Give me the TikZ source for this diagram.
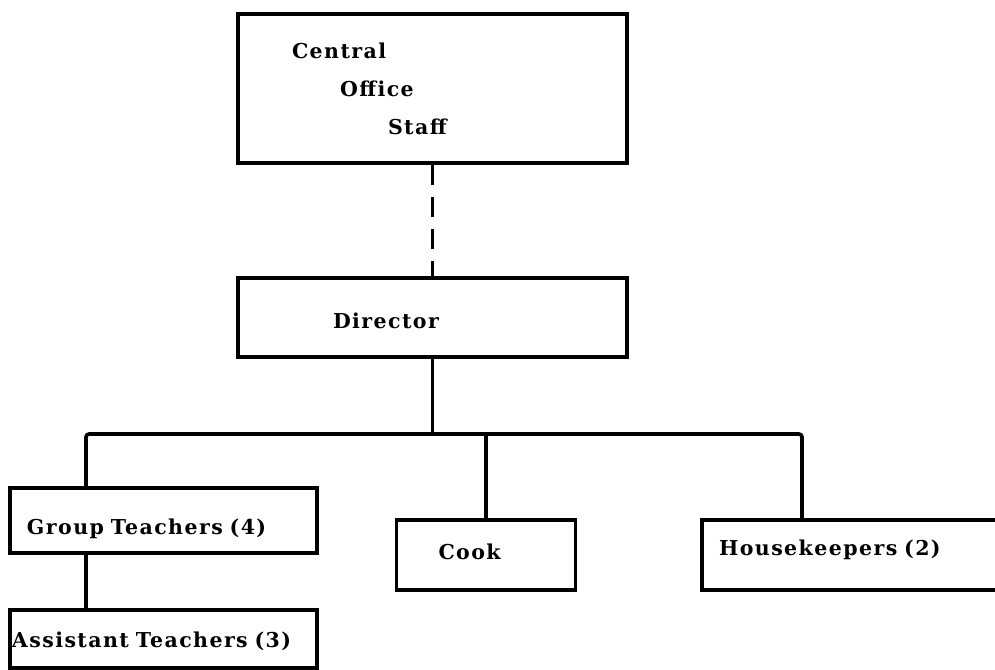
\documentclass[tikz,border=0pt]{standalone}
\usepackage{fontspec}
\setmainfont{DejaVu Serif}[LetterSpace=7]
\usetikzlibrary{positioning, calc}

\begin{document}
\begin{tikzpicture}[
  x=1pt, y=-1pt,
  unitbox/.style={draw, line width=3.6pt, font=\fontsize{20.5}{38}\selectfont\bfseries, align=left, inner ysep=0pt},
  drop/.style={text height=#1, text depth=0pt},
  link/.style={line width=3.6pt},
  dottedlink/.style={line width=3.6pt, dash pattern=on 20pt off 12pt},
]
\useasboundingbox (0,0) rectangle (995,669);

% Top of the chart
\node[unitbox, text width=281, inner xsep=54, minimum height=149] (cos) at (432.5,88.5)
  {Central\\\hspace*{48pt}Office\\\hspace*{96pt}Staff};
\node[unitbox, drop=22pt, text width=199, inner xsep=95, minimum height=79] (dir) at (432.5,317.5) {Director};

% Staff units
\node[unitbox, drop=28pt, text width=273, inner xsep=17, minimum height=65] (grp) at (163.5,520.5) {Group Teachers (4)};
\node[unitbox, drop=9pt, text width=95, inner xsep=42, minimum height=70] (cook) at (486,555) {Cook};
\node[unitbox, drop=1pt, text width=274, inner xsep=17, minimum height=70] (hk) at (856,555) {Housekeepers (2)};
\node[unitbox, drop=17pt, text width=303, inner xsep=2, minimum height=58] (asst) at (163.5,639) {Assistant Teachers (3)};

% Connectors
\coordinate (busL) at (86,434);
\coordinate (busR) at (802,434);
\draw[dottedlink] (cos.south) -- (dir.north);
\draw[link] (dir.south) -- (dir.south |- busL);
\draw[link, rounded corners=3pt] (grp.north -| busL) -- (busL) -- (busR) -- (hk.north -| busR);
\draw[link] (cook.north) -- (cook.north |- busL);
\draw[link] (grp.south -| busL) -- (asst.north -| busL);
\end{tikzpicture}
\end{document}
